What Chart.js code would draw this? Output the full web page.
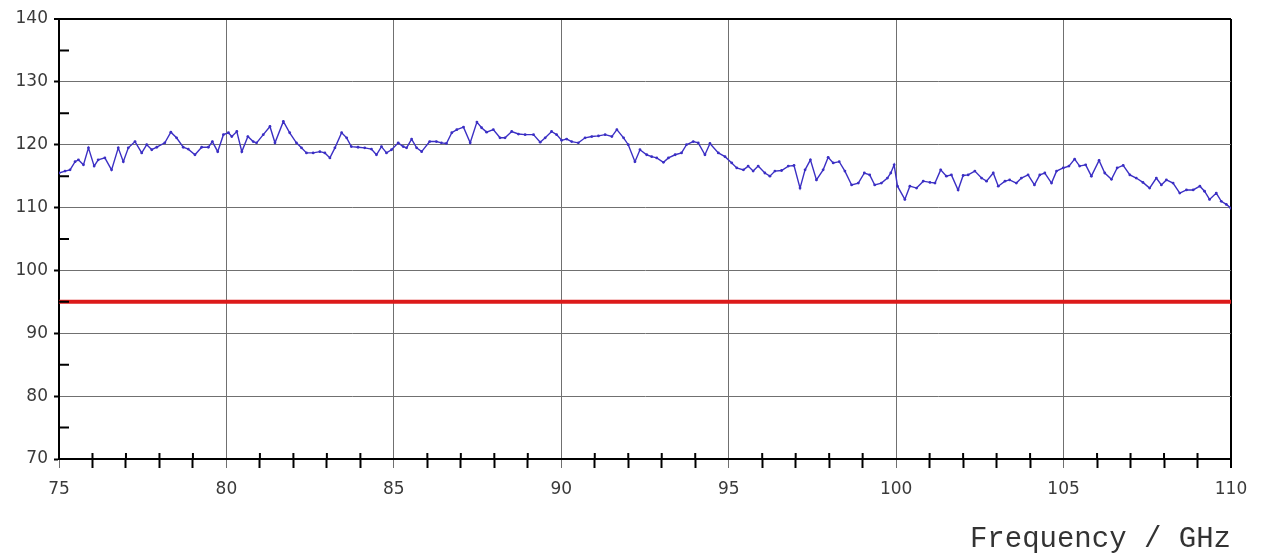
<!DOCTYPE html>
<html>
<head>
<meta charset="utf-8">
<script src="https://cdn.jsdelivr.net/npm/chart.js@4"></script>
<style>
  body { margin: 0; background: #fff; }
  canvas { display: block; }
</style>
</head>
<body>
<canvas id="myChart" width="1264" height="557"></canvas>
<script>
const freqs = [
  75.00, 75.18, 75.33, 75.48, 75.58, 75.73, 75.88, 76.05, 76.17, 76.37,
  76.57, 76.77, 76.92, 77.07, 77.27, 77.47, 77.62, 77.77, 77.92, 78.16,
  78.34, 78.51, 78.71, 78.86, 79.06, 79.26, 79.46, 79.58, 79.74, 79.91,
  80.06, 80.16, 80.31, 80.46, 80.64, 80.80, 80.90, 81.10, 81.30, 81.45,
  81.70, 81.89, 82.09, 82.24, 82.39, 82.59, 82.79, 82.94, 83.09, 83.24,
  83.44, 83.59, 83.73, 83.93, 84.13, 84.33, 84.48, 84.63, 84.78, 84.93,
  85.13, 85.28, 85.38, 85.53, 85.68, 85.83, 86.07, 86.27, 86.42, 86.57,
  86.73, 86.88, 87.08, 87.28, 87.48, 87.62, 87.77, 87.97, 88.17, 88.32,
  88.52, 88.72, 88.92, 89.17, 89.37, 89.52, 89.71, 89.86, 90.01, 90.16,
  90.31, 90.51, 90.71, 90.91, 91.11, 91.31, 91.51, 91.66, 91.86, 92.00,
  92.20, 92.35, 92.55, 92.70, 92.85, 93.05, 93.20, 93.40, 93.59, 93.74,
  93.94, 94.09, 94.29, 94.44, 94.69, 94.89, 95.09, 95.24, 95.44, 95.58,
  95.73, 95.88, 96.08, 96.23, 96.38, 96.58, 96.78, 96.95, 97.13, 97.28,
  97.44, 97.62, 97.82, 97.97, 98.12, 98.30, 98.47, 98.67, 98.87, 99.05,
  99.21, 99.36, 99.56, 99.74, 99.84, 99.94, 100.04, 100.26, 100.41, 100.61,
  100.81, 101.01, 101.16, 101.33, 101.50, 101.65, 101.85, 102.00, 102.15, 102.35,
  102.55, 102.70, 102.90, 103.05, 103.25, 103.39, 103.59, 103.74, 103.94, 104.13,
  104.29, 104.44, 104.64, 104.79, 104.99, 105.16, 105.33, 105.48, 105.66, 105.83,
  106.06, 106.23, 106.43, 106.60, 106.78, 106.98, 107.17, 107.37, 107.57, 107.77,
  107.92, 108.07, 108.27, 108.47, 108.67, 108.87, 109.07, 109.21, 109.36, 109.56,
  109.71, 109.86, 110.00
];
const levels = [
  115.5, 115.8, 116.0, 117.3, 117.6, 116.8, 119.5, 116.6, 117.6, 117.9,
  116.0, 119.5, 117.3, 119.5, 120.5, 118.7, 120.0, 119.2, 119.6, 120.3,
  122.0, 121.1, 119.6, 119.3, 118.4, 119.6, 119.6, 120.5, 118.9, 121.6,
  121.9, 121.3, 122.1, 118.9, 121.3, 120.5, 120.3, 121.6, 122.9, 120.3,
  123.7, 121.9, 120.3, 119.5, 118.7, 118.7, 118.9, 118.7, 117.9, 119.5,
  121.9, 121.1, 119.7, 119.6, 119.5, 119.3, 118.4, 119.7, 118.7, 119.2,
  120.3, 119.7, 119.5, 120.9, 119.5, 118.9, 120.5, 120.5, 120.3, 120.2,
  121.9, 122.4, 122.8, 120.3, 123.6, 122.7, 122.0, 122.4, 121.1, 121.1,
  122.1, 121.7, 121.6, 121.6, 120.4, 121.1, 122.1, 121.6, 120.7, 120.9,
  120.5, 120.3, 121.1, 121.3, 121.4, 121.6, 121.3, 122.4, 121.1, 120.0,
  117.3, 119.2, 118.4, 118.1, 117.9, 117.2, 117.9, 118.4, 118.7, 120.0,
  120.5, 120.3, 118.4, 120.2, 118.7, 118.1, 117.1, 116.3, 116.0, 116.6,
  115.8, 116.6, 115.5, 115.0, 115.8, 115.9, 116.6, 116.7, 113.1, 116.0,
  117.6, 114.4, 116.0, 118.0, 117.1, 117.3, 115.8, 113.6, 113.9, 115.5,
  115.2, 113.6, 113.9, 114.7, 115.5, 116.8, 113.4, 111.3, 113.4, 113.1,
  114.2, 114.0, 113.9, 116.0, 115.0, 115.2, 112.8, 115.1, 115.2, 115.8,
  114.7, 114.2, 115.5, 113.4, 114.2, 114.4, 113.9, 114.7, 115.2, 113.6,
  115.2, 115.5, 113.9, 115.8, 116.3, 116.6, 117.7, 116.6, 116.8, 115.0,
  117.5, 115.5, 114.5, 116.3, 116.7, 115.2, 114.7, 114.0, 113.1, 114.7,
  113.6, 114.4, 113.9, 112.3, 112.8, 112.8, 113.4, 112.6, 111.3, 112.3,
  111.0, 110.5, 109.9
];
// limit line
const limitFreqs = [75, 110];
const limitLevels = [95, 95];

// axis ranges and ticks
const xMin = 75, xMax = 110, xMinorStep = 1, xMajorStep = 5;
const yMin = 70, yMax = 140, yMinorStep = 5, yMajorStep = 10;
const xTitle = "Frequency / GHz";

function toPoints(xs, ys) {
  return xs.map(function(f, i) { return { x: f, y: ys[i] }; });
}

// small tick marks drawn inside the plot, like the original instrument plot
const innerTicks = {
  id: "innerTicks",
  afterDatasetsDraw(chart) {
    const ctx = chart.ctx;
    const area = chart.chartArea;
    const xs = chart.scales.x;
    const ys = chart.scales.y;
    ctx.save();
    ctx.strokeStyle = "#000";
    ctx.lineWidth = 2;
    ctx.beginPath();
    xs.ticks.forEach(function(t) {
      if (t.value % xMajorStep === 0) return;
      const px = xs.getPixelForValue(t.value);
      ctx.moveTo(px, area.bottom);
      ctx.lineTo(px, area.bottom - 6);
    });
    ys.ticks.forEach(function(t) {
      if (t.value % yMajorStep === 0) return;
      const py = ys.getPixelForValue(t.value);
      ctx.moveTo(area.left, py);
      ctx.lineTo(area.left + 10, py);
    });
    ctx.stroke();
    ctx.restore();
  }
};

var ctx = document.getElementById("myChart").getContext("2d");
var chart = new Chart(ctx, {
  type: "line",
  data: {
    datasets: [
      {
        data: toPoints(limitFreqs, limitLevels),
        borderColor: "#dc1a1a",
        borderWidth: 4,
        pointRadius: 0
      },
      {
        data: toPoints(freqs, levels),
        borderColor: "#3b2fc4",
        backgroundColor: "#3b2fc4",
        borderWidth: 1.4,
        pointRadius: 1.4,
        pointBorderWidth: 0,
        tension: 0
      }
    ]
  },
  plugins: [innerTicks],
  options: {
    responsive: false,
    animation: false,
    layout: { padding: { top: 19, right: 33, left: 0, bottom: 0 } },
    plugins: { legend: { display: false }, tooltip: { enabled: false } },
    scales: {
      x: {
        type: "linear",
        min: xMin,
        max: xMax,
        afterFit: function(s) { s.height = 98; },
        ticks: {
          stepSize: xMinorStep,
          autoSkip: false,
          maxRotation: 0,
          padding: 11,
          color: "#3a3a3a",
          font: { family: "DejaVu Sans", size: 17 },
          callback: function(v) { return v % xMajorStep === 0 ? String(v) : ""; }
        },
        grid: {
          color: function(c) {
            if (c.tick.value === xMax) return "#000";
            return c.tick.value % xMajorStep === 0 ? "#707070" : "rgba(0,0,0,0)";
          },
          lineWidth: function(c) { return c.tick.value === xMax ? 2 : 1; },
          tickColor: function(c) { return c.tick.value % xMajorStep === 0 && c.tick.value !== xMax ? "#707070" : "#000"; },
          tickWidth: function(c) { return c.tick.value % xMajorStep === 0 && c.tick.value !== xMax ? 1 : 2; },
          tickLength: 9
        },
        border: { color: "#000", width: 2 },
        title: {
          display: true,
          text: xTitle,
          align: "end",
          color: "#333",
          font: { family: "Liberation Mono", size: 29 },
          padding: { top: 0, bottom: 0 }
        }
      },
      y: {
        min: yMin,
        max: yMax,
        afterFit: function(s) { s.width = 59; },
        ticks: {
          stepSize: yMinorStep,
          autoSkip: false,
          padding: 6,
          color: "#3a3a3a",
          font: { family: "DejaVu Sans", size: 17 },
          callback: function(v) { return v % yMajorStep === 0 ? String(v) : ""; }
        },
        grid: {
          color: function(c) {
            if (c.tick.value === yMax) return "#000";
            return c.tick.value % yMajorStep === 0 ? "#707070" : "rgba(0,0,0,0)";
          },
          lineWidth: function(c) { return c.tick.value === yMax ? 2 : 1; },
          tickColor: function(c) { return c.tick.value % yMajorStep === 0 ? "#000" : "rgba(0,0,0,0)"; },
          tickWidth: 2,
          tickLength: 5
        },
        border: { color: "#000", width: 2 }
      }
    }
  }
});
</script>
</body>
</html>
